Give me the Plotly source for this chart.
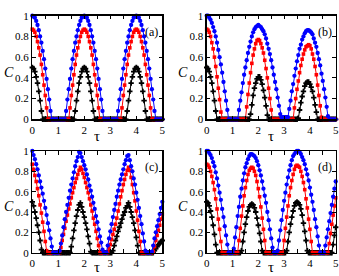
import plotly.graph_objects as go

tau = [0.0, 0.05, 0.1, 0.15, 0.2, 0.25, 0.3, 0.35, 0.4, 0.45, 0.5, 0.55, 0.6, 0.65, 0.7, 0.75, 0.8, 0.85, 0.9, 0.95,
       1.0, 1.05, 1.1, 1.15, 1.2, 1.25, 1.3, 1.35, 1.4, 1.45, 1.5, 1.55, 1.6, 1.65, 1.7, 1.75, 1.8, 1.85, 1.9, 1.95,
       2.0, 2.05, 2.1, 2.15, 2.2, 2.25, 2.3, 2.35, 2.4, 2.45, 2.5, 2.55, 2.6, 2.65, 2.7, 2.75, 2.8, 2.85, 2.9, 2.95,
       3.0, 3.05, 3.1, 3.15, 3.2, 3.25, 3.3, 3.35, 3.4, 3.45, 3.5, 3.55, 3.6, 3.65, 3.7, 3.75, 3.8, 3.85, 3.9, 3.95,
       4.0, 4.05, 4.1, 4.15, 4.2, 4.25, 4.3, 4.35, 4.4, 4.45, 4.5, 4.55, 4.6, 4.65, 4.7, 4.75, 4.8, 4.85, 4.9, 4.95,
       5.0]

# ---- panel (a) ----
a_blue = [1.0, 0.99, 0.98, 0.95, 0.91, 0.86, 0.80, 0.74, 0.66, 0.58, 0.49, 0.39, 0.29, 0.19, 0.08,
          0, 0, 0, 0, 0, 0, 0, 0, 0, 0, 0,
          0.08, 0.19, 0.29, 0.39, 0.49, 0.58, 0.66, 0.74, 0.80, 0.86, 0.91, 0.95, 0.98, 0.99, 1.0,
          0.99, 0.98, 0.95, 0.91, 0.86, 0.80, 0.74, 0.66, 0.58, 0.49, 0.39, 0.29, 0.19, 0.08,
          0, 0, 0, 0, 0, 0, 0, 0, 0, 0, 0,
          0.08, 0.19, 0.29, 0.39, 0.49, 0.58, 0.66, 0.74, 0.80, 0.86, 0.91, 0.95, 0.98, 0.99, 1.0,
          0.99, 0.98, 0.95, 0.91, 0.86, 0.80, 0.74, 0.66, 0.58, 0.49, 0.39, 0.29, 0.19, 0.08,
          0, 0, 0, 0, 0, 0]
a_red = [0.87, 0.86, 0.84, 0.80, 0.75, 0.69, 0.62, 0.53, 0.43, 0.33, 0.23, 0.11,
         0, 0, 0, 0, 0, 0, 0, 0, 0, 0, 0, 0, 0, 0, 0, 0, 0,
         0.11, 0.23, 0.33, 0.43, 0.53, 0.62, 0.69, 0.75, 0.80, 0.84, 0.86, 0.87,
         0.86, 0.84, 0.80, 0.75, 0.69, 0.62, 0.53, 0.43, 0.33, 0.23, 0.11,
         0, 0, 0, 0, 0, 0, 0, 0, 0, 0, 0, 0, 0, 0, 0, 0, 0,
         0.11, 0.23, 0.33, 0.43, 0.53, 0.62, 0.69, 0.75, 0.80, 0.84, 0.86, 0.87,
         0.86, 0.84, 0.80, 0.75, 0.69, 0.62, 0.53, 0.43, 0.33, 0.23, 0.11,
         0, 0, 0, 0, 0, 0, 0, 0, 0]
a_black = [0.5, 0.49, 0.46, 0.41, 0.35, 0.27, 0.18, 0.08,
           0, 0, 0, 0, 0, 0, 0, 0, 0, 0, 0, 0, 0, 0, 0, 0, 0, 0, 0, 0, 0, 0, 0, 0, 0,
           0.08, 0.18, 0.27, 0.35, 0.41, 0.46, 0.49, 0.5,
           0.49, 0.46, 0.41, 0.35, 0.27, 0.18, 0.08,
           0, 0, 0, 0, 0, 0, 0, 0, 0, 0, 0, 0, 0, 0, 0, 0, 0, 0, 0, 0, 0, 0, 0, 0, 0,
           0.08, 0.18, 0.27, 0.35, 0.41, 0.46, 0.49, 0.5,
           0.49, 0.46, 0.41, 0.35, 0.27, 0.18, 0.08,
           0, 0, 0, 0, 0, 0, 0, 0, 0, 0, 0, 0, 0]

# ---- panel (b) ----
b_blue = [1.0, 1.0, 0.98, 0.96, 0.93, 0.89, 0.85, 0.80, 0.74, 0.67, 0.60, 0.53, 0.45, 0.36, 0.27, 0.18, 0.09,
          0, 0, 0, 0, 0, 0, 0, 0,
          0.09, 0.18, 0.26, 0.35, 0.43, 0.50, 0.57, 0.64, 0.70, 0.75, 0.80, 0.84, 0.87, 0.89, 0.90, 0.91,
          0.90, 0.89, 0.87, 0.85, 0.82, 0.78, 0.73, 0.68, 0.63, 0.57, 0.50, 0.43, 0.36, 0.29, 0.21, 0.13, 0.05,
          0.02, 0.02, 0.02, 0.02, 0.02,
          0.02, 0.10, 0.18, 0.27, 0.34, 0.42, 0.49, 0.56, 0.62, 0.68, 0.72, 0.77, 0.80, 0.83, 0.85, 0.86, 0.86,
          0.85, 0.84, 0.82, 0.78, 0.74, 0.70, 0.64, 0.58, 0.52, 0.44, 0.37, 0.29, 0.21, 0.12, 0.03,
          0, 0, 0, 0, 0, 0]
b_red = [0.87, 0.86, 0.84, 0.80, 0.74, 0.68, 0.60, 0.51, 0.41, 0.30, 0.19, 0.07,
         0, 0, 0, 0, 0, 0, 0, 0, 0, 0, 0, 0, 0, 0, 0, 0, 0, 0, 0,
         0.12, 0.24, 0.35, 0.45, 0.54, 0.62, 0.68, 0.73, 0.76, 0.77,
         0.76, 0.73, 0.69, 0.64, 0.57, 0.49, 0.40, 0.30, 0.20, 0.09,
         0, 0, 0, 0, 0, 0, 0, 0, 0, 0, 0, 0, 0, 0, 0, 0, 0,
         0.11, 0.20, 0.29, 0.37, 0.45, 0.52, 0.58, 0.63, 0.67, 0.70, 0.71, 0.72,
         0.71, 0.68, 0.63, 0.58, 0.51, 0.43, 0.33, 0.23, 0.13, 0.02,
         0, 0, 0, 0, 0, 0, 0, 0, 0, 0, 0]
b_black = [0.5, 0.49, 0.46, 0.41, 0.35, 0.27, 0.18, 0.08,
           0, 0, 0, 0, 0, 0, 0, 0, 0, 0, 0, 0, 0, 0, 0, 0, 0, 0, 0, 0, 0, 0, 0, 0, 0, 0,
           0.05, 0.14, 0.23, 0.30, 0.35, 0.39, 0.41, 0.41, 0.38, 0.34, 0.28, 0.21, 0.13, 0.04,
           0, 0, 0, 0, 0, 0, 0, 0, 0, 0, 0, 0, 0, 0, 0, 0, 0, 0, 0, 0, 0, 0, 0,
           0.01, 0.09, 0.16, 0.22, 0.27, 0.32, 0.35, 0.36, 0.36, 0.34, 0.31, 0.27, 0.21, 0.14, 0.07,
           0, 0, 0, 0, 0, 0, 0, 0, 0, 0, 0, 0, 0, 0, 0]

# ---- panel (c) ----
c_blue = [1.0, 0.96, 0.92, 0.87, 0.82, 0.76, 0.70, 0.64, 0.58, 0.51, 0.44, 0.37, 0.29, 0.22, 0.14, 0.06,
          0, 0, 0, 0, 0,
          0.02, 0.09, 0.17, 0.25, 0.33, 0.40, 0.47, 0.54, 0.61, 0.67, 0.73, 0.79, 0.85, 0.90, 0.94, 0.99,
          0.98, 0.94, 0.90, 0.86, 0.82, 0.77, 0.72, 0.66, 0.61, 0.55, 0.49, 0.43, 0.36, 0.30, 0.23, 0.16, 0.10, 0.03,
          0, 0, 0,
          0.07, 0.14, 0.21, 0.28, 0.35, 0.42, 0.48, 0.55, 0.61, 0.67, 0.72, 0.77, 0.82, 0.87, 0.91, 0.95,
          0.96, 0.91, 0.85, 0.80, 0.73, 0.67, 0.59, 0.52, 0.44, 0.36, 0.28, 0.19, 0.11, 0.02,
          0, 0, 0, 0,
          0.01, 0.07, 0.14, 0.20, 0.26, 0.32, 0.38, 0.44, 0.50]
c_red = [0.87, 0.82, 0.76, 0.70, 0.63, 0.56, 0.47, 0.39, 0.30, 0.21, 0.11, 0.02,
         0, 0, 0, 0, 0, 0, 0, 0, 0, 0,
         0.05, 0.12, 0.18, 0.24, 0.31, 0.37, 0.43, 0.48, 0.54, 0.59, 0.64, 0.69, 0.73, 0.77, 0.81, 0.84,
         0.82, 0.78, 0.74, 0.69, 0.64, 0.59, 0.53, 0.47, 0.41, 0.34, 0.28, 0.21, 0.14, 0.07,
         0, 0, 0, 0, 0, 0, 0,
         0.04, 0.08, 0.13, 0.18, 0.23, 0.28, 0.34, 0.41, 0.48, 0.55, 0.61, 0.67, 0.72, 0.77, 0.81, 0.84,
         0.81, 0.74, 0.67, 0.59, 0.51, 0.41, 0.32, 0.21, 0.11,
         0, 0, 0, 0, 0, 0, 0, 0, 0,
         0.01, 0.06, 0.12, 0.17, 0.22, 0.27, 0.33, 0.38]
c_black = [0.5, 0.46, 0.40, 0.34, 0.27, 0.20, 0.12, 0.03,
           0, 0, 0, 0, 0, 0, 0, 0, 0, 0, 0, 0, 0, 0, 0, 0, 0, 0, 0, 0, 0, 0,
           0.06, 0.14, 0.22, 0.29, 0.36, 0.42, 0.47, 0.49, 0.45, 0.40, 0.35, 0.29, 0.23, 0.16, 0.09, 0.01,
           0, 0, 0, 0, 0, 0, 0, 0, 0, 0, 0, 0, 0, 0, 0, 0,
           0.02, 0.07, 0.12, 0.16, 0.21, 0.25, 0.29, 0.33, 0.37, 0.40, 0.44, 0.46, 0.49,
           0.45, 0.40, 0.35, 0.29, 0.22, 0.15, 0.07,
           0, 0, 0, 0, 0, 0, 0, 0, 0, 0, 0, 0,
           0.02, 0.04, 0.06, 0.08, 0.09, 0.11, 0.12]

# ---- panel (d) ----
d_blue = [1.0, 1.0, 0.98, 0.96, 0.93, 0.89, 0.85, 0.79, 0.73, 0.66, 0.59, 0.52, 0.43, 0.35, 0.26, 0.17, 0.08,
          0, 0, 0, 0,
          0.04, 0.15, 0.25, 0.36, 0.45, 0.55, 0.63, 0.71, 0.78, 0.84, 0.88, 0.92, 0.95, 0.97, 0.97,
          0.96, 0.95, 0.93, 0.90, 0.86, 0.81, 0.76, 0.70, 0.63, 0.56, 0.49, 0.40, 0.32, 0.23, 0.14, 0.05,
          0, 0, 0,
          0.02, 0.12, 0.22, 0.32, 0.42, 0.51, 0.59, 0.67, 0.74, 0.81, 0.86, 0.91, 0.95, 0.97, 0.99, 1.0,
          1.0, 0.99, 0.97, 0.94, 0.91, 0.87, 0.82, 0.77, 0.71, 0.64, 0.57, 0.50, 0.42, 0.33, 0.25, 0.16, 0.07,
          0, 0, 0, 0,
          0.07, 0.15, 0.23, 0.31, 0.39, 0.47, 0.55, 0.63, 0.70]
d_red = [0.87, 0.86, 0.84, 0.80, 0.75, 0.69, 0.62, 0.53, 0.43, 0.33, 0.23, 0.11,
         0, 0, 0, 0, 0, 0, 0, 0, 0, 0, 0, 0, 0,
         0.12, 0.24, 0.36, 0.46, 0.56, 0.64, 0.71, 0.77, 0.81, 0.83, 0.84,
         0.83, 0.80, 0.76, 0.70, 0.63, 0.55, 0.45, 0.34, 0.23, 0.12,
         0, 0, 0, 0, 0, 0, 0, 0, 0, 0, 0, 0, 0, 0,
         0.12, 0.24, 0.35, 0.46, 0.56, 0.64, 0.71, 0.77, 0.82, 0.85, 0.86,
         0.85, 0.84, 0.80, 0.75, 0.69, 0.62, 0.53, 0.44, 0.33, 0.23, 0.11,
         0, 0, 0, 0, 0, 0, 0, 0, 0, 0, 0, 0, 0,
         0.09, 0.19, 0.28, 0.37, 0.46, 0.54]
d_black = [0.5, 0.49, 0.46, 0.41, 0.35, 0.27, 0.18, 0.08,
           0, 0, 0, 0, 0, 0, 0, 0, 0, 0, 0, 0, 0, 0, 0, 0, 0, 0, 0,
           0.02, 0.11, 0.20, 0.28, 0.35, 0.41, 0.45, 0.47, 0.48, 0.47, 0.44, 0.40, 0.34, 0.27, 0.19, 0.11, 0.02,
           0, 0, 0, 0, 0, 0, 0, 0, 0, 0, 0, 0, 0, 0, 0, 0, 0, 0,
           0.02, 0.11, 0.20, 0.28, 0.35, 0.41, 0.46, 0.49, 0.50, 0.49, 0.47, 0.43, 0.37, 0.29, 0.21, 0.12, 0.02,
           0, 0, 0, 0, 0, 0, 0, 0, 0, 0, 0, 0, 0, 0, 0, 0, 0, 0, 0,
           0.08, 0.17, 0.25]

panel_labels = ["(a)", "(b)", "(c)", "(d)"]
x_ticks = [0, 1, 2, 3, 4, 5]
y_ticks = [0, 0.2, 0.4, 0.6, 0.8, 1]
y_tick_text = ["0", "0.2", "0.4", "0.6", "0.8", "1"]

panels = [
    (a_blue, a_red, a_black),
    (b_blue, b_red, b_black),
    (c_blue, c_red, c_black),
    (d_blue, d_red, d_black),
]

names = ["a_blue", "a_red", "a_black", "b_blue", "b_red", "b_black",
         "c_blue", "c_red", "c_black", "d_blue", "d_red", "d_black"]
bad = [(n, len(s)) for n, s in zip(names, [s for p in panels for s in p]) if len(s) != len(tau)]
if bad:
    raise ValueError("length mismatch: %s" % bad)

W, H = 339, 276
xdoms = [[32.3 / W, 162.3 / W], [206.7 / W, 335.7 / W]]
ydoms = [[1 - 119.3 / H, 1 - 15.7 / H], [1 - 252.7 / H, 1 - 151.0 / H]]

SERIF = "Liberation Serif, Times New Roman, serif"
fig = go.Figure()
layout = dict(
    width=W, height=H, margin=dict(l=0, r=0, t=0, b=0, pad=0, autoexpand=False),
    paper_bgcolor="white", plot_bgcolor="white", showlegend=False,
    font=dict(family=SERIF, color="black", size=11),
)
annotations = []

for i, (blue, red, black) in enumerate(panels):
    row, col = divmod(i, 2)
    k = "" if i == 0 else str(i + 1)
    xa, ya = "x" + k, "y" + k
    styles = [
        (black, "black", "cross", 4.5),
        (red, "red", "square", 3.6),
        (blue, "blue", "circle", 4.3),
    ]
    for ys, colr, sym, sz in styles:
        fig.add_trace(go.Scatter(
            x=tau, y=ys, xaxis=xa, yaxis=ya, mode="lines+markers",
            line=dict(color=colr, width=1),
            marker=dict(symbol=sym, size=sz, color=colr, line=dict(width=0)),
            cliponaxis=False, hoverinfo="skip"))
    common = dict(showline=True, mirror="ticks", linecolor="black", linewidth=1.3,
                  ticks="inside", ticklen=3.5, tickwidth=1, tickcolor="black",
                  showgrid=False, zeroline=False, fixedrange=True, automargin=False,
                  tickfont=dict(family=SERIF, size=11, color="black"))
    layout["xaxis" + k] = dict(common, domain=xdoms[col], anchor=ya, range=[0, 5],
                               tickvals=x_ticks, ticktext=[str(t) for t in x_ticks],
                               minor=dict(dtick=0.5, tick0=0, ticks="inside", ticklen=3.5,
                                          tickcolor="black", showgrid=False))
    layout["yaxis" + k] = dict(common, domain=ydoms[row], anchor=xa, range=[0, 1],
                               tickvals=y_ticks, ticktext=y_tick_text)
    if row == 0:
        tau_y, tau_anchor = ydoms[row][0] - 17.0 / H, "middle"
    else:
        tau_y, tau_anchor = 0.0, "bottom"
    annotations.append(dict(text="τ", xref=xa, yref="paper", x=2.5,
                            y=tau_y, xanchor="center", yanchor=tau_anchor,
                            showarrow=False, borderpad=0,
                            font=dict(family=SERIF, size=15, color="black")))
    annotations.append(dict(text="<i>C</i>", xref="paper", yref=ya,
                            x=(xdoms[col][0] * W - 23.5) / W, y=0.45,
                            xanchor="center", yanchor="middle", showarrow=False,
                            borderpad=0,
                            font=dict(family=SERIF, size=14, color="black")))
    annotations.append(dict(text=panel_labels[i], xref=xa, yref=ya, x=4.58, y=0.84,
                            xanchor="center", yanchor="middle", showarrow=False,
                            font=dict(family=SERIF, size=12, color="black")))

layout["annotations"] = annotations
fig.update_layout(**layout)
fig.write_html("out.html", config={"displayModeBar": False, "staticPlot": True},
               post_script="document.body.style.margin='0px';")
